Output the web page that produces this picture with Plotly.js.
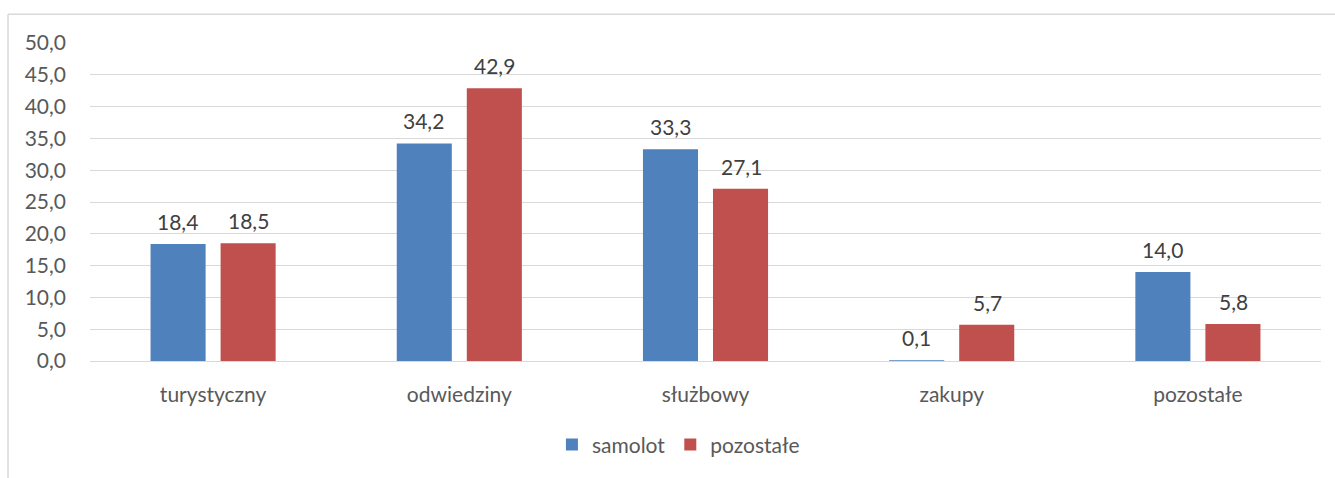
<!DOCTYPE html>
<html>
<head>
<meta charset="utf-8">
<script src="https://cdn.plot.ly/plotly-3.0.1.min.js"></script>
<style>html,body{margin:0;padding:0;background:#fff;}#chart{width:1335px;height:478px;}</style>
</head>
<body>
<div id="chart"></div>
<script>
const categories = ["turystyczny", "odwiedziny", "służbowy", "zakupy", "pozostałe"];
const samolot = [18.4, 34.2, 33.3, 0.1, 14.0];
const pozostale = [18.5, 42.9, 27.1, 5.7, 5.8];
const seriesNames = ["samolot", "pozostałe"];
const yTickVals = [0, 5, 10, 15, 20, 25, 30, 35, 40, 45, 50];

const fmt = v => v.toFixed(1).replace('.', ',');
const FONT = 'Lato, "Open Sans", sans-serif';
const labelFont = {family: FONT, size: 21, color: '#404040'};

const annotations = [];
[[samolot, -35.5], [pozostale, 35.5]].forEach(([vals, dx]) => {
  vals.forEach((v, i) => {
    annotations.push({
      x: categories[i], y: v, xref: 'x', yref: 'y',
      text: fmt(v), showarrow: false, yanchor: 'bottom', xanchor: 'center',
      xshift: dx, yshift: 8, font: labelFont
    });
  });
});

const data = [
  {type: 'bar', name: seriesNames[0], x: categories, y: samolot, marker: {color: '#4F81BD', line: {width: 0}}, hoverinfo: 'none'},
  {type: 'bar', name: seriesNames[1], x: categories, y: pozostale, marker: {color: '#C0504D', line: {width: 0}}, hoverinfo: 'none'}
];

const layout = {
  width: 1335, height: 478,
  margin: {l: 90, r: 14, t: 43, b: 115},
  paper_bgcolor: '#fff', plot_bgcolor: '#fff',
  separators: ', ',
  barmode: 'group', bargap: 0.431, bargroupgap: 0.214,
  font: {family: FONT, size: 21, color: '#595959'},
  xaxis: {
    type: 'category', showgrid: false, zeroline: false, showline: false,
    ticks: '', ticklabelstandoff: 19, tickfont: {family: FONT, size: 21, color: '#595959'}
  },
  yaxis: {
    range: [0, 50], tickvals: yTickVals, tickformat: '.1f',
    showgrid: true, gridcolor: '#d9d9d9', gridwidth: 1,
    zeroline: true, zerolinecolor: '#d9d9d9', zerolinewidth: 1, showline: false,
    ticks: '', ticklabelstandoff: 23, tickfont: {family: FONT, size: 21, color: '#595959'}
  },
  showlegend: true,
  legend: {
    orientation: 'h', x: 0.478, xanchor: 'center', y: -0.264, yanchor: 'middle',
    font: {family: FONT, size: 21, color: '#595959'}, itemwidth: 30, traceorder: 'normal'
  },
  annotations: annotations,
  shapes: [
    {type: 'line', xref: 'paper', yref: 'paper', x0: -0.0666, x1: 1.1, y0: 1.0906, y1: 1.0906, line: {color: '#d9d9d9', width: 1.5}},
    {type: 'line', xref: 'paper', yref: 'paper', x0: -0.0666, x1: -0.0666, y0: 1.0906, y1: -0.5, line: {color: '#d9d9d9', width: 1.5}}
  ]
};

Plotly.newPlot('chart', data, layout, {displayModeBar: false, staticPlot: true});
</script>
</body>
</html>
